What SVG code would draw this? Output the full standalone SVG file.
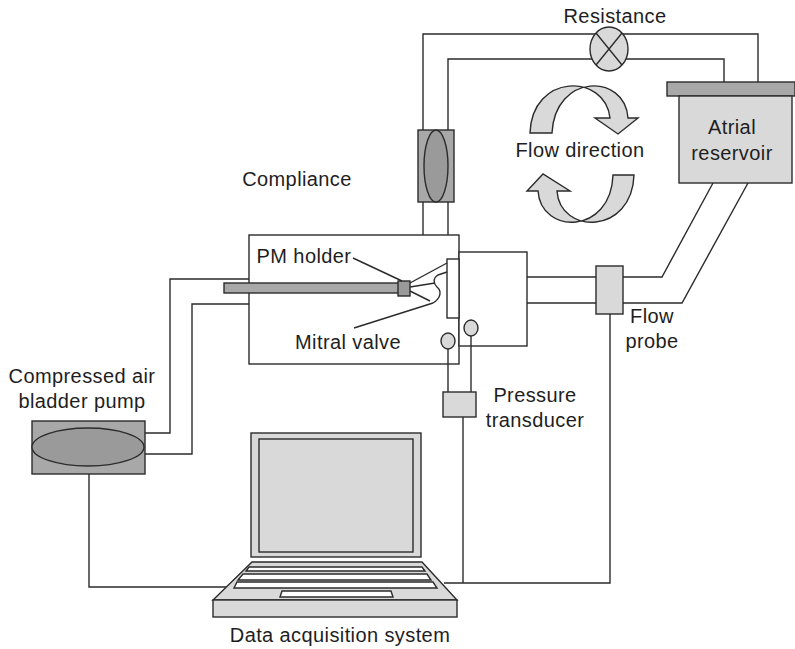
<svg xmlns="http://www.w3.org/2000/svg" width="795" height="649" viewBox="0 0 795 649">
  <style>
    .ln { fill: none; stroke: #2b2b2b; stroke-width: 1.4; }
    .mid { fill: #a7a8a7; stroke: #2b2b2b; stroke-width: 1.4; }
    .dark { fill: #9a9a9a; stroke: #2b2b2b; stroke-width: 1.4; }
    .light { fill: #d9d9d9; stroke: #2b2b2b; stroke-width: 1.4; }
    .white { fill: #ffffff; stroke: #2b2b2b; stroke-width: 1.4; }
    text { font-family: "Liberation Sans", Arial, Helvetica, sans-serif; font-size: 20px; letter-spacing: 0.4px; fill: #1e1e1e; text-anchor: middle; }
  </style>
  <rect width="795" height="649" fill="#ffffff"/>

  <!-- tubing and signal wires -->
  <g id="connectors">
    <!-- upper loop: compliance -> resistance -> reservoir -->
    <polyline class="ln" points="423,130 423,34 758,34 758,82"/>
    <polyline class="ln" points="448,130 448,59 724,59 724,82"/>
    <!-- compliance down to ventricle chamber -->
    <line class="ln" x1="423" y1="202" x2="423" y2="235"/>
    <line class="ln" x1="448" y1="202" x2="448" y2="235"/>
    <!-- outflow: chamber -> flow probe -> reservoir -->
    <line class="ln" x1="527" y1="277" x2="596" y2="277"/>
    <line class="ln" x1="527" y1="303" x2="596" y2="303"/>
    <polyline class="ln" points="623,277 662,277 713,183"/>
    <polyline class="ln" points="623,303 682,303 748,183"/>
    <!-- air lines from bladder pump -->
    <polyline class="ln" points="249,279 170,279 170,433 145,433"/>
    <polyline class="ln" points="249,304 192,304 192,454 145,454"/>
    <!-- signal wires to data acquisition -->
    <polyline class="ln" points="89,474 89,587 227,587"/>
    <polyline class="ln" points="463,417 463,583"/>
    <polyline class="ln" points="444,583 610,583 610,314"/>
  </g>

  <!-- resistance valve -->
  <g id="resistance">
    <ellipse class="light" cx="609" cy="49" rx="19" ry="22"/>
    <line class="ln" x1="596" y1="33" x2="622" y2="65"/>
    <line class="ln" x1="622" y1="33" x2="596" y2="65"/>
    <text x="615" y="23">Resistance</text>
  </g>

  <!-- atrial reservoir -->
  <g id="atrial-reservoir">
    <rect class="mid" x="667" y="82" width="128" height="14"/>
    <rect class="light" x="679" y="96" width="113" height="87"/>
    <text x="732" y="134">Atrial</text>
    <text x="732" y="160">reservoir</text>
  </g>

  <!-- compliance chamber -->
  <g id="compliance">
    <rect class="mid" x="418" y="130" width="36" height="72"/>
    <ellipse class="dark" cx="436" cy="166" rx="12" ry="36"/>
    <text x="297" y="186">Compliance</text>
  </g>

  <!-- flow direction arrows -->
  <g id="flow-direction">
    <path class="light" d="M530,133 C532,73 605,73 610,118 L595,118 L618,134 L638,118 L628,118 C625,73 555,73 552,133 Z"/>
    <path class="light" d="M634,175 C632,235 560,235 557,191 L570,191 L543,174 L527,191 L538,191 C541,235 611,235 613,175 Z"/>
    <text x="580" y="157">Flow direction</text>
  </g>

  <!-- ventricle chamber with papillary muscle holder and mitral valve -->
  <g id="ventricle-chamber">
    <rect class="white" x="249" y="235" width="210" height="129"/>
    <rect class="white" x="459" y="252" width="68" height="94"/>
    <rect class="mid" x="224" y="283" width="175" height="10"/>
    <rect class="dark" x="398" y="281" width="12" height="15"/>
    <rect class="white" x="447" y="259" width="12" height="59"/>
    <!-- chordae and leaflet -->
    <line class="ln" x1="410" y1="283" x2="447" y2="263"/>
    <line class="ln" x1="410" y1="287" x2="435" y2="283"/>
    <line class="ln" x1="410" y1="291" x2="430" y2="301"/>
    <path class="ln" d="M447,272 L438,275 C433,278 433,283 437,287 C442,291 441,298 433,303"/>
    <!-- leader lines -->
    <line class="ln" x1="353" y1="258" x2="402" y2="281"/>
    <line class="ln" x1="354" y1="328" x2="433" y2="303"/>
    <text x="304" y="263">PM holder</text>
    <text x="348" y="349">Mitral valve</text>
  </g>

  <!-- pressure taps and transducer -->
  <g id="pressure-transducer">
    <line class="ln" x1="448" y1="349" x2="448" y2="392"/>
    <line class="ln" x1="471" y1="336" x2="471" y2="392"/>
    <ellipse class="light" cx="448" cy="341" rx="7" ry="8"/>
    <ellipse class="light" cx="471" cy="328" rx="7" ry="8"/>
    <rect class="light" x="443" y="392" width="33" height="25"/>
    <text x="535" y="402">Pressure</text>
    <text x="535" y="427">transducer</text>
  </g>

  <!-- flow probe -->
  <g id="flow-probe">
    <rect class="light" x="596" y="266" width="27" height="48"/>
    <text x="652" y="323">Flow</text>
    <text x="652" y="348">probe</text>
  </g>

  <!-- compressed air bladder pump -->
  <g id="bladder-pump">
    <rect class="mid" x="32" y="421" width="113" height="53"/>
    <ellipse class="dark" cx="88" cy="447" rx="56" ry="19"/>
    <text x="82" y="383">Compressed air</text>
    <text x="82" y="408">bladder pump</text>
  </g>

  <!-- laptop -->
  <g id="data-acquisition">
    <rect class="light" x="251" y="433" width="170" height="124"/>
    <rect class="light" x="259" y="439" width="154" height="113"/>
    <polygon class="light" points="252,562 422,562 457,600 213,600"/>
    <rect class="light" x="213" y="600" width="244" height="17"/>
    <polygon class="white" points="249,567 422,567 425,571 246,571"/>
    <polygon class="white" points="243,574 427,574 431,580 238,580"/>
    <polygon class="white" points="237,582 433,582 437,588 234,588"/>
    <polygon class="white" points="282,591 391,591 393,597 280,597"/>
    <text x="340" y="642">Data acquisition system</text>
  </g>
</svg>
